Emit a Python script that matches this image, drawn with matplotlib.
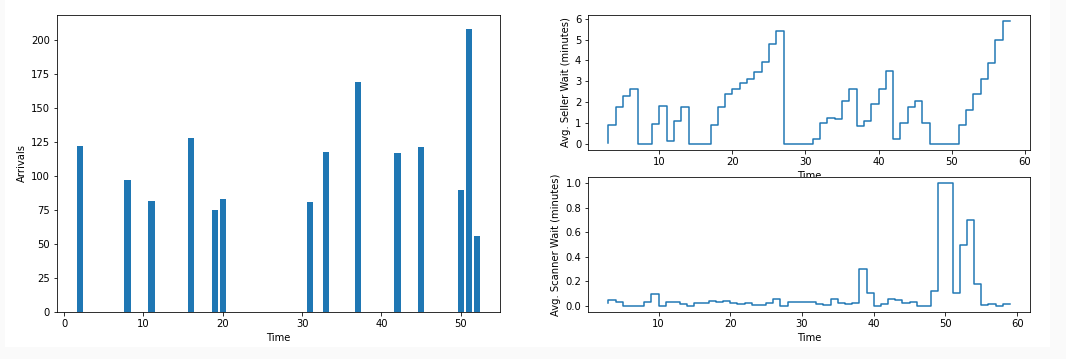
import matplotlib
matplotlib.use("Agg")
from matplotlib import pyplot as plt
from matplotlib.patches import Rectangle
from matplotlib.ticker import MultipleLocator

# arrivals per time step
arrival_times = [2, 8, 11, 16, 19, 20, 31, 33, 37, 42, 45, 50, 51, 52]
arrival_counts = [122, 97, 82, 128, 75, 83, 81, 118, 169, 117, 121, 90, 208, 56]

# average seller wait, t = 3..58
seller_times = list(range(3, 59))
seller_wait = [0.05, 0.9, 1.75, 2.3, 2.65, 0, 0, 0.95, 1.8, 0.15,
               1.1, 1.75, 0, 0, 0, 0.9, 1.75, 2.4, 2.65, 2.9,
               3.1, 3.45, 3.95, 4.8, 5.4, 0, 0, 0, 0, 0.25,
               1.0, 1.25, 1.2, 2.05, 2.65, 0.85, 1.1, 1.9, 2.65, 3.5,
               0.25, 1.0, 1.75, 2.05, 1.0, 0, 0, 0, 0, 0.9,
               1.6, 2.4, 3.1, 3.9, 5.0, 5.9]

# average scanner wait, t = 3..59
scanner_times = list(range(3, 60))
scanner_wait = [0.024, 0.05, 0.03, 0, 0, 0, 0.035, 0.1, 0, 0.035,
                0.035, 0.016, 0, 0.022, 0.022, 0.045, 0.03, 0.04, 0.025, 0.015,
                0.022, 0.013, 0.01, 0.025, 0.06, 0, 0.03, 0.03, 0.03, 0.03,
                0.02, 0.012, 0.06, 0.022, 0.015, 0.028, 0.3, 0.105, 0, 0.02,
                0.06, 0.052, 0.022, 0.03, 0, 0, 0.12, 1.0, 1.0, 0.105,
                0.5, 0.7, 0.18, 0.01, 0.016, 0, 0.02]

W, H = 1066, 359
fig = plt.figure(figsize=(W / 72, H / 72), dpi=72, facecolor="#fafafa")
# white notebook output area
fig.patches.append(Rectangle((5 / W, 12 / H), 1045 / W, 1 - 12 / H,
                             transform=fig.transFigure, facecolor="white",
                             edgecolor="none", zorder=-1))

ax1 = fig.add_axes([56.7 / W, 1 - 312.3 / H, 443.3 / W, 297.6 / H])
ax1.bar(arrival_times, arrival_counts)
ax1.set_xlabel("Time")
ax1.set_ylabel("Arrivals")

ax2 = fig.add_axes([588.3 / W, 1 - 150 / H, 441.7 / W, 135.3 / H])
ax2.step(seller_times, seller_wait)
ax2.yaxis.set_major_locator(MultipleLocator(1))
ax2.set_xlabel("Time")
ax2.set_ylabel("Avg. Seller Wait (minutes)")

ax3 = fig.add_axes([588.3 / W, 1 - 312.3 / H, 441.7 / W, 135.6 / H])
ax3.step(scanner_times, scanner_wait)
ax3.set_xlabel("Time")
ax3.set_ylabel("Avg. Scanner Wait (minutes)")

fig.savefig("out.png", dpi=72, facecolor=fig.get_facecolor())
plt.close(fig)
